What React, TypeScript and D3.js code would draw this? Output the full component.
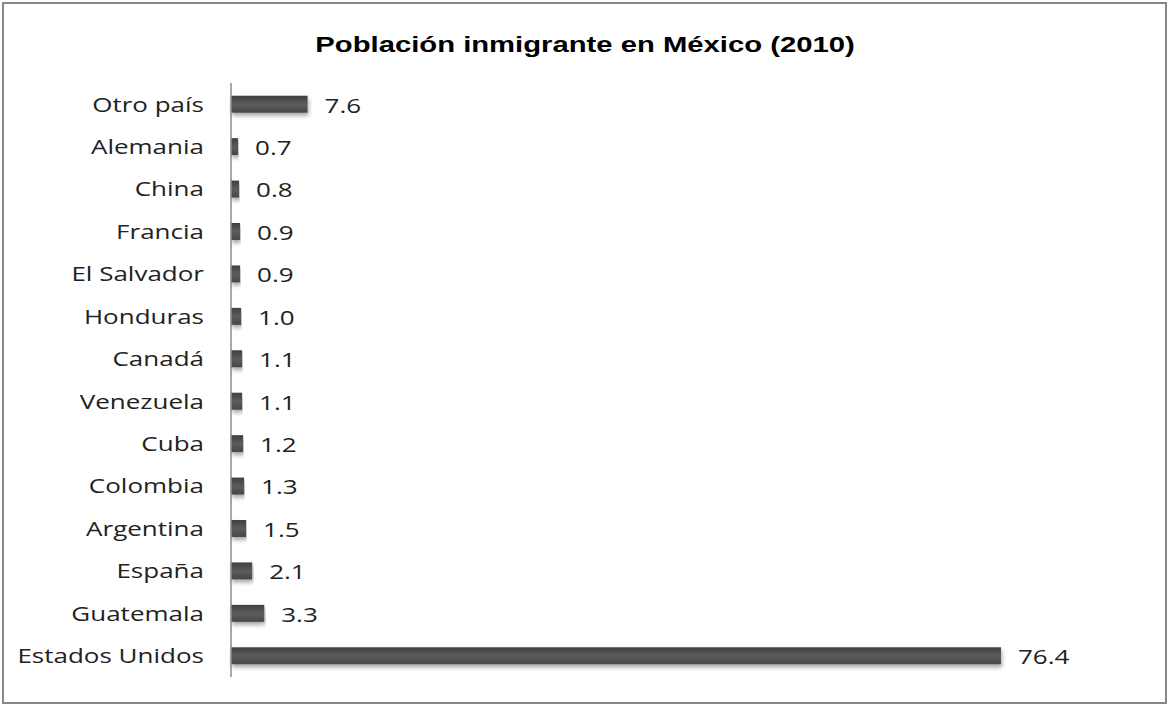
import React from "react";
import * as d3 from "d3";

const categories = ["Otro país", "Alemania", "China", "Francia", "El Salvador", "Honduras", "Canadá", "Venezuela", "Cuba", "Colombia", "Argentina", "España", "Guatemala", "Estados Unidos"];
const values = [7.6, 0.7, 0.8, 0.9, 0.9, 1.0, 1.1, 1.1, 1.2, 1.3, 1.5, 2.1, 3.3, 76.4];
const title = "Población inmigrante en México (2010)";

export default function App() {
  const W = 1170, H = 706;
  const SX = 1.3;
  const x = d3.scaleLinear().domain([0, 76.4]).range([231, 1001]);
  const y = d3.scaleBand<string>().domain(categories).range([83, 677]).paddingInner(0.6).paddingOuter(0.3);
  const lab = "'Open Sans', 'Noto Sans', sans-serif";
  return (
    <svg width={W} height={H} style={{ position: "absolute", left: 0, top: 0, background: "#fff" }}>
      <defs>
        <linearGradient id="bg" x1="0" y1="0" x2="0" y2="1">
          <stop offset="0" stopColor="#3f3f3f" />
          <stop offset="0.5" stopColor="#5c5c5c" />
          <stop offset="1" stopColor="#474747" />
        </linearGradient>
        <filter id="sh" x="-5%" y="-30%" width="110%" height="180%">
          <feDropShadow dx="1" dy="3" stdDeviation="2" floodColor="#000" floodOpacity="0.35" />
        </filter>
      </defs>
      <rect x={3} y={3} width={1163} height={700} fill="#fff" stroke="#878787" strokeWidth={2} />
      <g transform={`translate(585,52) scale(${SX},1)`}>
        <text x={0} y={0} textAnchor="middle" fontFamily="'Liberation Sans', Arial, sans-serif" fontWeight="bold" fontSize={22.5} fill="#000">{title}</text>
      </g>
      {categories.map((c, i) => {
        const yy = y(c)!;
        const bw = y.bandwidth();
        const cy = yy + bw / 2;
        return (
          <g key={c}>
            <rect x={x(0)} y={yy} width={x(values[i]) - x(0)} height={bw} fill="url(#bg)" filter="url(#sh)" />
            <g transform={`translate(204,${cy}) scale(${SX},1)`}>
              <text x={0} y={0} dy="0.37em" textAnchor="end" fontFamily={lab} fontSize={20} fill="#222">{c}</text>
            </g>
            <g transform={`translate(${x(values[i]) + 17},${cy + 1}) scale(${SX},1)`}>
              <text x={0} y={0} dy="0.37em" textAnchor="start" fontFamily={lab} fontSize={20} fill="#222">{values[i].toFixed(1)}</text>
            </g>
          </g>
        );
      })}
      <line x1={231} x2={231} y1={83} y2={677} stroke="#8c8c8c" strokeWidth={1.5} />
    </svg>
  );
}
